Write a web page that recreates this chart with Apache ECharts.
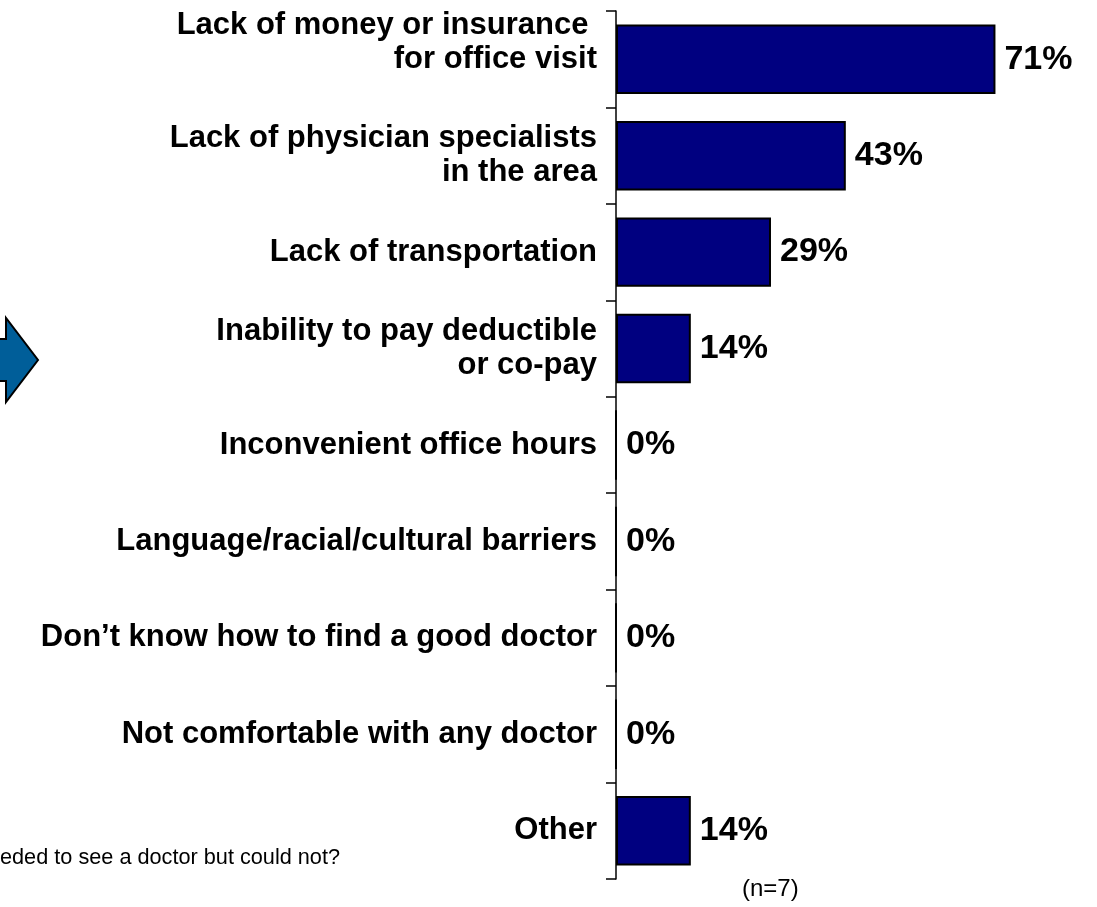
<!DOCTYPE html>
<html>
<head>
<meta charset="utf-8">
<script src="https://cdn.jsdelivr.net/npm/echarts@6/dist/echarts.min.js"></script>
<style>
html,body{margin:0;padding:0;background:#fff;}
#chart{width:1097px;height:907px;}
</style>
</head>
<body>
<div id="chart"></div>
<script>
const categories = [
  "Lack of money or insurance \nfor office visit\n",
  "Lack of physician specialists\nin the area",
  "Lack of transportation",
  "Inability to pay deductible\nor co-pay",
  "Inconvenient office hours",
  "Language/racial/cultural barriers",
  "Don\u2019t know how to find a good doctor",
  "Not comfortable with any doctor",
  "Other"
];
const values = [71, 43, 29, 14, 0, 0, 0, 0, 14];
const footnote = "eded to see a doctor but could not?";
const sampleNote = "(n=7)";

const chart = echarts.init(document.getElementById('chart'));
const FONT = "'Liberation Sans', Arial, sans-serif";
chart.setOption({
  animation: false,
  backgroundColor: '#ffffff',
  grid: { left: 616, top: 11, bottom: 28, right: 0, containLabel: false },
  xAxis: { type: 'value', min: 0, max: 90, show: false, splitLine: { show: false } },
  yAxis: {
    type: 'category',
    data: categories,
    inverse: true,
    axisLine: { show: true, lineStyle: { color: '#000', width: 1.5 } },
    axisTick: { show: true, length: 10, alignWithLabel: false, lineStyle: { color: '#000', width: 1.5 } },
    axisLabel: {
      margin: 19,
      color: '#000',
      fontFamily: FONT,
      fontWeight: 'bold',
      fontSize: 31,
      lineHeight: 34,
      align: 'right'
    }
  },
  series: [{
    type: 'bar',
    data: values,
    barCategoryGap: '28%',
    itemStyle: { color: '#000080', borderColor: '#000', borderWidth: 2 },
    label: {
      show: true,
      position: 'right',
      distance: 9,
      formatter: '{c}%',
      color: '#000',
      fontFamily: FONT,
      fontWeight: 'bold',
      fontSize: 34
    }
  }],
  graphic: [
    {
      type: 'polygon',
      shape: { points: [[-10, 339], [6, 339], [6, 318], [38, 360], [6, 402], [6, 381], [-10, 381]] },
      style: { fill: '#005e99', stroke: '#000', lineWidth: 2 }
    },
    {
      type: 'text', left: 0, top: 847,
      style: { text: footnote, fontFamily: FONT, fontSize: 21.7, fill: '#000' }
    },
    {
      type: 'text', left: 742, top: 877,
      style: { text: sampleNote, fontFamily: FONT, fontSize: 24, fill: '#000' }
    }
  ]
});
</script>
</body>
</html>
